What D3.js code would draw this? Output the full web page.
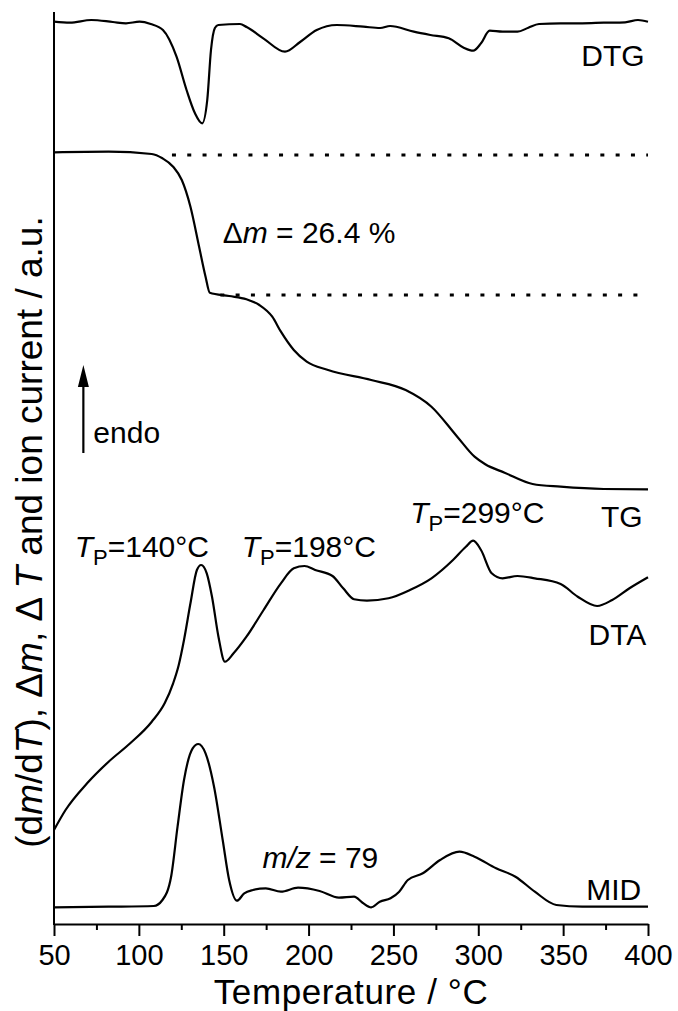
<!DOCTYPE html>
<html>
<head>
<meta charset="utf-8">
<script src="https://cdn.jsdelivr.net/npm/d3@7"></script>
<style>
  body { margin: 0; background: #fff; }
  svg text { font-family: "Liberation Sans", Arial, sans-serif; fill: #000; }
</style>
</head>
<body>
<div id="chart"></div>
<script>
// temperature grid (°C) and signal values (a.u.)
const dtgT = [50, 59.4, 72, 84.7, 92.4, 100.4, 107, 114.2, 122.2, 128.1, 133, 137.3, 140.3, 142.5, 144.8, 146.8, 159.6, 163.5, 173.3, 186.1, 195, 204.8, 216.6, 232.3, 242.2, 248, 262, 271.8, 282.6, 291.4, 297, 301.6, 306.7, 314.3, 323.1, 329.5, 335.8, 348.5, 361.2, 373.9, 386.5, 394.1, 400];
const dtgV = [902.3, 901.3, 904, 902, 900.7, 902.3, 900, 894, 867.3, 834, 811, 800.7, 824, 874, 896, 899, 900, 897, 885.7, 872.3, 882, 894, 899, 897.3, 896, 898, 892.3, 889, 885.7, 876.3, 873.3, 880.7, 893.3, 892.3, 892.3, 896.3, 900, 900.7, 900.7, 901.3, 901.7, 904, 902.3];

const tgT = [50, 82.2, 107.6, 113.9, 120.2, 125.3, 130.4, 135.5, 139.3, 141.8, 153.2, 163.4, 171, 178.6, 183.7, 191.3, 198.9, 211.5, 236.9, 257.2, 272.4, 287.6, 297.8, 304.1, 315.5, 332, 348.5, 373.9, 400];
const tgV = [771.7, 772.3, 770, 765.7, 757.3, 744, 717.3, 677.3, 647.3, 631.3, 628, 624.7, 619, 607.3, 592.3, 574, 562.3, 554, 544, 534, 517.3, 487.3, 467.3, 459.7, 451.3, 440, 437.3, 435, 434.7];

const dtaT = [50, 56.8, 69.5, 82.2, 94.9, 107.6, 115.2, 120.2, 123.5, 126.6, 130.4, 134.2, 136.7, 140, 143.1, 146.9, 150.7, 155.8, 163.4, 173.5, 183.7, 191.3, 197.6, 203.9, 214.1, 220.4, 226.8, 234.4, 247.1, 259.7, 272.4, 285.1, 292.7, 297, 301.6, 307.9, 314.3, 323.1, 333.3, 348.5, 358.6, 370, 378.9, 389.1, 400];
const dtaV = [94, 114, 140.7, 162.3, 180.7, 202.3, 220.7, 240.7, 259, 284, 320.7, 354, 359, 350.7, 327.3, 287.3, 262.3, 270.7, 287.3, 314, 340.7, 355.7, 358, 354, 348, 335.7, 324.7, 323.3, 325.7, 334, 345.7, 364, 377.3, 383.3, 374, 350.7, 345.7, 348, 345.7, 340, 327.3, 318, 324, 335.7, 346.7];

const midT = [50, 82.2, 108.8, 113.9, 119, 122.8, 126.6, 131.7, 135, 139.3, 144.3, 149.4, 153.2, 157.8, 162.1, 167.2, 174.8, 183.7, 193.8, 206.5, 217.9, 226.8, 231.8, 236.9, 242, 248.3, 253.4, 258.5, 267.3, 277.5, 288.9, 297.8, 310.5, 321.9, 333.3, 346, 361.2, 400];
const midV = [16.7, 17.3, 18, 24, 47.3, 97.3, 144, 175.7, 180, 170.7, 137.3, 84, 44, 23.3, 30.7, 34, 35.7, 32.3, 36.3, 33, 26.3, 27.3, 21.3, 16.7, 22.3, 25.7, 32.3, 44, 50.7, 64, 72.3, 67.3, 55.7, 47.3, 32.3, 19, 17.3, 17.3];

// TG step levels used for the mass-loss reading
const stepLevels = [769, 629];
const stepStartT = [119.5, 148];

const majorTicks = [50, 100, 150, 200, 250, 300, 350, 400];
const minorTicks = [75, 125, 175, 225, 275, 325, 375];

const width = 678, height = 1011;
const margin = { top: 12, right: 30, bottom: 87, left: 54 };

const svg = d3.select("#chart")
  .append("svg")
  .attr("width", width)
  .attr("height", height);

const x = d3.scaleLinear()
  .domain([50, 400])
  .range([margin.left, width - margin.right]);

const y = d3.scaleLinear()
  .domain([0, 912])
  .range([height - margin.bottom, margin.top]);

const line = d3.line()
  .x(d => x(d[0]))
  .y(d => y(d[1]))
  .curve(d3.curveMonotoneX);

const series = [
  [dtgT, dtgV],
  [tgT, tgV],
  [dtaT, dtaV],
  [midT, midV]
];

svg.selectAll(".curve")
  .data(series)
  .enter()
  .append("path")
  .attr("class", "curve")
  .attr("fill", "none")
  .attr("stroke", "#000")
  .attr("stroke-width", 2.2)
  .attr("stroke-linejoin", "round")
  .attr("d", s => line(d3.zip(s[0], s[1])));

// dotted guide lines for the TG step
svg.selectAll(".guide")
  .data(stepLevels)
  .enter()
  .append("line")
  .attr("class", "guide")
  .attr("stroke", "#000")
  .attr("stroke-width", 3)
  .attr("stroke-dasharray", "4,11.3")
  .attr("x1", (d, i) => x(stepStartT[i]))
  .attr("x2", x(400))
  .attr("y1", d => y(d))
  .attr("y2", d => y(d));

// axes
const xAxis = svg.append("g")
  .attr("transform", `translate(0,${y(0)})`)
  .call(d3.axisBottom(x).tickValues(majorTicks).tickSize(12).tickSizeOuter(0).tickPadding(8).tickFormat(d3.format("d")));
xAxis.selectAll("text").attr("font-size", 29).attr("font-family", null);

svg.append("g")
  .attr("transform", `translate(0,${y(0)})`)
  .call(d3.axisBottom(x).tickValues(minorTicks).tickSize(6).tickSizeOuter(0).tickFormat(""))
  .select(".domain").remove();

svg.selectAll(".tick line").attr("stroke-width", 2);
xAxis.select(".domain").attr("stroke-width", 2);

svg.append("line")
  .attr("stroke", "#000")
  .attr("stroke-width", 2)
  .attr("x1", x(50)).attr("x2", x(50))
  .attr("y1", y(0) + 1).attr("y2", y(912));

svg.append("text")
  .attr("x", (x(50) + x(400)) / 2)
  .attr("y", 1003.5)
  .attr("text-anchor", "middle")
  .attr("font-size", 35)
  .attr("letter-spacing", 0.6)
  .text("Temperature / °C");

const yLabel = svg.append("text")
  .attr("transform", `translate(42,${(y(0) + y(912)) / 2 + 64}) rotate(-90)`)
  .attr("text-anchor", "middle")
  .attr("font-size", 37);
yLabel.append("tspan").text("(d");
yLabel.append("tspan").attr("font-style", "italic").text("m");
yLabel.append("tspan").text("/d");
yLabel.append("tspan").attr("font-style", "italic").text("T");
yLabel.append("tspan").text("), \u0394");
yLabel.append("tspan").attr("font-style", "italic").text("m");
yLabel.append("tspan").text(", \u0394 ");
yLabel.append("tspan").attr("font-style", "italic").text("T");
yLabel.append("tspan").text(" and ion current / a.u.");

// curve labels
const curveLabels = ["DTG", "TG", "DTA", "MID"];
const curveLabelAt = [[398, 858], [396.8, 397], [399, 279], [396, 24]];
svg.selectAll(".clabel")
  .data(curveLabels)
  .enter()
  .append("text")
  .attr("class", "clabel")
  .attr("text-anchor", "end")
  .attr("font-size", 30)
  .attr("x", (d, i) => x(curveLabelAt[i][0]))
  .attr("y", (d, i) => y(curveLabelAt[i][1]))
  .text(d => d);

// peak temperatures
const peakLabels = ["140", "198", "299"];
const peakLabelAt = [[62.2, 367.3], [160.6, 367.3], [259.9, 400.7]];
peakLabels.forEach((p, i) => {
  const t = svg.append("text")
    .attr("x", x(peakLabelAt[i][0]))
    .attr("y", y(peakLabelAt[i][1]))
    .attr("font-size", 30);
  t.append("tspan").attr("font-style", "italic").text("T");
  t.append("tspan").attr("font-size", 22).attr("dy", 8).text("P");
  t.append("tspan").attr("dy", -8).text(`=${p}°C`);
});

// mass loss
const dm = svg.append("text")
  .attr("x", x(149.4))
  .attr("y", y(680.7))
  .attr("font-size", 30);
dm.append("tspan").text("\u0394");
dm.append("tspan").attr("font-style", "italic").text("m");
dm.append("tspan").text(" = 26.4 %");

// m/z
const mz = svg.append("text")
  .attr("x", x(172.8))
  .attr("y", y(55.7))
  .attr("font-size", 30);
mz.append("tspan").attr("font-style", "italic").text("m/z");
mz.append("tspan").text(" = 79");

// endo arrow
const arrowT = 67.3;
svg.append("line")
  .attr("stroke", "#000")
  .attr("stroke-width", 2.2)
  .attr("x1", x(arrowT)).attr("x2", x(arrowT))
  .attr("y1", y(471)).attr("y2", y(540));

svg.append("path")
  .attr("fill", "#000")
  .attr("d", `M${x(arrowT)},${y(559)} L${x(arrowT) - 5.5},${y(537)} L${x(arrowT) + 5.5},${y(537)} Z`);

svg.append("text")
  .attr("x", x(73.2))
  .attr("y", y(480.7))
  .attr("font-size", 30)
  .text("endo");
</script>
</body>
</html>
